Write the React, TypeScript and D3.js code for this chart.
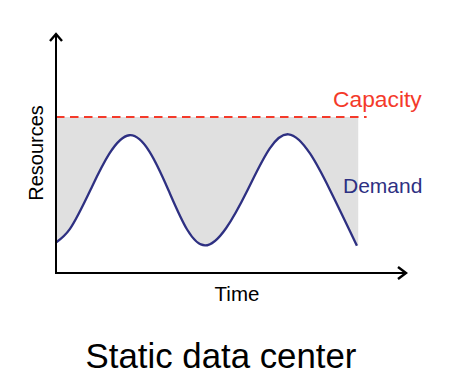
import React, { useEffect, useRef } from 'react'
import * as d3 from 'd3'

// demand curve (time 0-100, resources 0-100):
// start, crossings, peaks, trough, end
const demandTime = [0, 4.0, 10.0, 21.0, 32.2, 42.7, 54.9, 66.6, 78.5, 86.2]
const demandValue = [12.7, 18.4, 35.0, 57.4, 34.6, 11.5, 34.6, 57.8, 34.6, 11.4]
const capacityValue = 65
const capacityEnd = 89
const fillEnd = 86.6
const labels = ['Capacity', 'Demand', 'Resources', 'Time']
const title = 'Static data center'

const W = 460, H = 388

export default function App() {
  const ref = useRef<SVGSVGElement>(null)

  useEffect(() => {
    const svg = d3.select(ref.current)
    svg.selectAll('*').remove()

    const x = d3.scaleLinear().domain([0, 100]).range([56, 405])
    const y = d3.scaleLinear().domain([0, 100]).range([273, 33])

    const demand = demandTime.map((t, i) => ({ t, v: demandValue[i] }))
    const last = demand[demand.length - 1]

    // grey gap between capacity and demand
    const area = d3.area<{ t: number; v: number }>()
      .x(d => x(d.t))
      .y0(y(capacityValue))
      .y1(d => y(d.v))
      .curve(d3.curveNatural)
    svg.append('path')
      .datum(demand)
      .attr('d', area)
      .attr('fill', '#e0e0e0')
    svg.append('rect')
      .attr('x', x(last.t) - 0.5)
      .attr('y', y(capacityValue))
      .attr('width', x(fillEnd) - x(last.t) + 0.5)
      .attr('height', y(last.v) - y(capacityValue))
      .attr('fill', '#e0e0e0')

    svg.append('line')
      .attr('x1', x(0)).attr('x2', x(capacityEnd))
      .attr('y1', y(capacityValue)).attr('y2', y(capacityValue))
      .attr('stroke', '#f43a2a')
      .attr('stroke-width', 2)
      .attr('stroke-dasharray', '8.5,5.5')

    const line = d3.line<{ t: number; v: number }>()
      .x(d => x(d.t))
      .y(d => y(d.v))
      .curve(d3.curveNatural)
    svg.append('path')
      .datum(demand)
      .attr('d', line)
      .attr('fill', 'none')
      .attr('stroke', '#2e3082')
      .attr('stroke-width', 2.3)

    // axes with open arrow heads
    const axes = svg.append('g').attr('stroke', '#000').attr('stroke-width', 2).attr('fill', 'none')
    axes.append('path').attr('d', `M${x(0)},${y(0)}V${y(100) + 1}`)
    axes.append('path').attr('d', `M${x(0) - 6},${y(100) + 8}L${x(0)},${y(100) + 1}L${x(0) + 6},${y(100) + 8}`)
      .attr('stroke-width', 2.4)
    axes.append('path').attr('d', `M${x(0) - 1},${y(0)}H${x(100) + 1}`)
    axes.append('path').attr('d', `M${x(100) - 7},${y(0) - 6}L${x(100) + 1},${y(0)}L${x(100) - 7},${y(0) + 6}`)
      .attr('stroke-width', 2.4)

    const font = 'Liberation Sans, Arial, sans-serif'
    svg.append('text')
      .attr('x', 333).attr('y', 107)
      .attr('font-family', font).attr('font-size', 22.8)
      .attr('fill', '#f43a2a')
      .text(labels[0])
    svg.append('text')
      .attr('x', 343).attr('y', 193)
      .attr('font-family', font).attr('font-size', 21)
      .attr('fill', '#2e3082')
      .text(labels[1])
    svg.append('text')
      .attr('transform', 'translate(43,153) rotate(-90)')
      .attr('text-anchor', 'middle')
      .attr('font-family', font).attr('font-size', 20)
      .attr('fill', '#000')
      .text(labels[2])
    svg.append('text')
      .attr('x', 237).attr('y', 301)
      .attr('text-anchor', 'middle')
      .attr('font-family', font).attr('font-size', 20.5)
      .attr('fill', '#000')
      .text(labels[3])
    svg.append('text')
      .attr('x', 221).attr('y', 368)
      .attr('text-anchor', 'middle')
      .attr('font-family', font).attr('font-size', 34.8)
      .attr('fill', '#000')
      .text(title)
  }, [])

  return (
    <svg ref={ref} width={W} height={H}
      style={{ position: 'absolute', left: 0, top: 0, background: '#fff' }} />
  )
}
